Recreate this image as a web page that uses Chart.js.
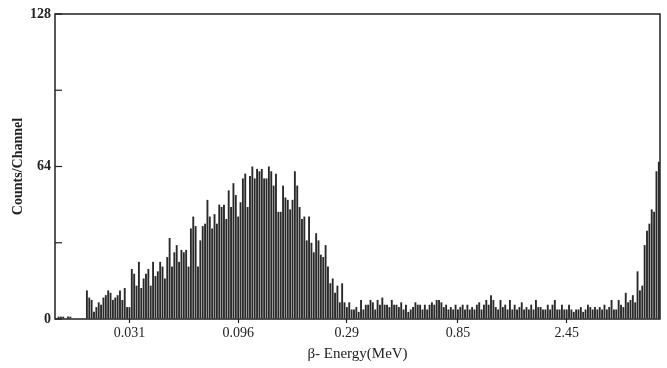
<!DOCTYPE html>
<html>
<head>
<meta charset="utf-8">
<script src="https://cdn.jsdelivr.net/npm/chart.js@4"></script>
<style>
  html, body { margin: 0; padding: 0; background: #fff; }
  #wrap { width: 667px; height: 368px; }
</style>
</head>
<body>
<div id="wrap"><canvas id="spectrum"></canvas></div>
<script>
// counts per channel, 256 channels
const lowEnd = [0, 1, 1, 1, 0, 1, 1, 0, 0, 0, 0, 0, 0];
const betaHump = [
    12, 9, 8, 3, 5, 7, 6, 9, 10, 12,
    11, 8, 9, 10, 12, 8, 13, 5, 5, 21,
    19, 14, 24, 13, 17, 19, 21, 14, 24, 18,
    20, 24, 22, 17, 26, 34, 22, 28, 31, 24,
    29, 28, 29, 22, 38, 43, 39, 22, 33, 39,
    40, 50, 43, 38, 44, 40, 48, 47, 48, 42,
    54, 47, 57, 52, 43, 49, 59, 61, 47, 60,
    64, 59, 63, 62, 63, 59, 59, 64, 62, 56,
    61, 45, 45, 56, 51, 50, 46, 50, 62, 56,
    47, 42, 43, 33, 43, 32, 28, 36, 33, 27,
    26, 31, 22, 15, 17, 11, 14, 7, 15, 7,
    5, 7
];
const tail = [
    4, 4, 5, 3, 8, 4, 6, 6, 8, 7,
    4, 8, 6, 9, 6, 6, 5, 8, 6, 6,
    5, 7, 4, 6, 3, 4, 5, 7, 6,
    6, 4, 6, 4, 6, 7, 6, 8, 8, 7,
    5, 6, 4, 5, 4, 6, 4, 5, 6, 4,
    6, 4, 5, 4, 6, 7, 4, 6, 8, 6,
    10, 8, 5, 4, 8, 5, 6, 4, 8, 4,
    6, 4, 5, 7, 4, 5, 4, 6, 4, 8,
    5, 5, 4, 4, 6, 4, 6, 8, 4,
    4, 6, 4, 4, 6, 4, 3, 4, 4, 5,
    3, 4, 6, 5, 4, 5, 4, 5, 4, 6,
    4, 5, 8, 4, 4, 8, 6, 5, 11, 7,
    8, 10, 7
];
const highEnd = [20, 12, 14, 31, 37, 40, 46, 45, 62, 66];

const energyTickChannels = [31, 77, 123, 170, 216];
const energyTickLabels = ['0.031', '0.096', '0.29', '0.85', '2.45'];
const countTicks = [0, 32, 64, 96, 128];
const countLabels = ['0', '', '64', '', '128'];

const counts = [...lowEnd, ...betaHump, ...tail, ...highEnd];

const ink = '#222';
const serif = "'Liberation Serif', 'DejaVu Serif', serif";

// box round the plot and the short inward ticks on the count axis
const frame = {
    id: 'frame',
    afterDraw(chart) {
        const { ctx, chartArea: a, scales } = chart;
        ctx.save();
        ctx.strokeStyle = ink;
        ctx.lineWidth = 1.5;
        ctx.strokeRect(a.left, a.top, a.right - a.left, a.bottom - a.top);
        ctx.lineWidth = 1.2;
        countTicks.forEach(v => {
            const y = scales.y.getPixelForValue(v);
            ctx.beginPath();
            ctx.moveTo(a.left, y);
            ctx.lineTo(a.left + 7, y);
            ctx.stroke();
        });
        ctx.restore();
    }
};

const ctx = document.getElementById('spectrum').getContext('2d');
new Chart(ctx, {
    type: 'bar',
    data: {
        datasets: [{
            data: counts.map((c, i) => ({ x: i, y: c })),
            backgroundColor: '#2a2a2a',
            borderWidth: 0,
            barPercentage: 0.8,
            categoryPercentage: 1
        }]
    },
    options: {
        responsive: true,
        maintainAspectRatio: false,
        animation: false,
        layout: { padding: { top: 14, right: 7, left: 0, bottom: 0 } },
        plugins: { legend: { display: false }, tooltip: { enabled: false } },
        scales: {
            x: {
                type: 'linear',
                offset: false,
                min: -0.5,
                max: 255.5,
                afterFit: s => { s.height = 49; },
                afterBuildTicks: s => { s.ticks = energyTickChannels.map(v => ({ value: v })); },
                grid: { offset: false, drawOnChartArea: false, tickLength: 4, color: ink, tickWidth: 1.2 },
                border: { display: false },
                ticks: {
                    autoSkip: false,
                    maxRotation: 0,
                    padding: 2,
                    color: ink,
                    font: { family: serif, size: 14 },
                    callback: v => energyTickLabels[energyTickChannels.indexOf(v)] || ''
                },
                title: {
                    display: true,
                    text: 'β- Energy(MeV)',
                    color: ink,
                    font: { family: serif, size: 15 },
                    padding: { top: 0, bottom: 5 }
                }
            },
            y: {
                min: 0,
                max: 128,
                afterFit: s => { s.width = 55; },
                afterBuildTicks: s => { s.ticks = countTicks.map(v => ({ value: v })); },
                grid: { drawOnChartArea: false, drawTicks: false },
                border: { display: false },
                ticks: {
                    padding: 4,
                    color: ink,
                    font: { family: serif, size: 14, weight: 'bold' },
                    callback: v => countLabels[countTicks.indexOf(v)]
                },
                title: {
                    display: true,
                    text: 'Counts/Channel',
                    color: ink,
                    font: { family: serif, size: 14, weight: 'bold' },
                    padding: { top: 10, bottom: 0 }
                }
            }
        }
    },
    plugins: [frame]
});
</script>
</body>
</html>
